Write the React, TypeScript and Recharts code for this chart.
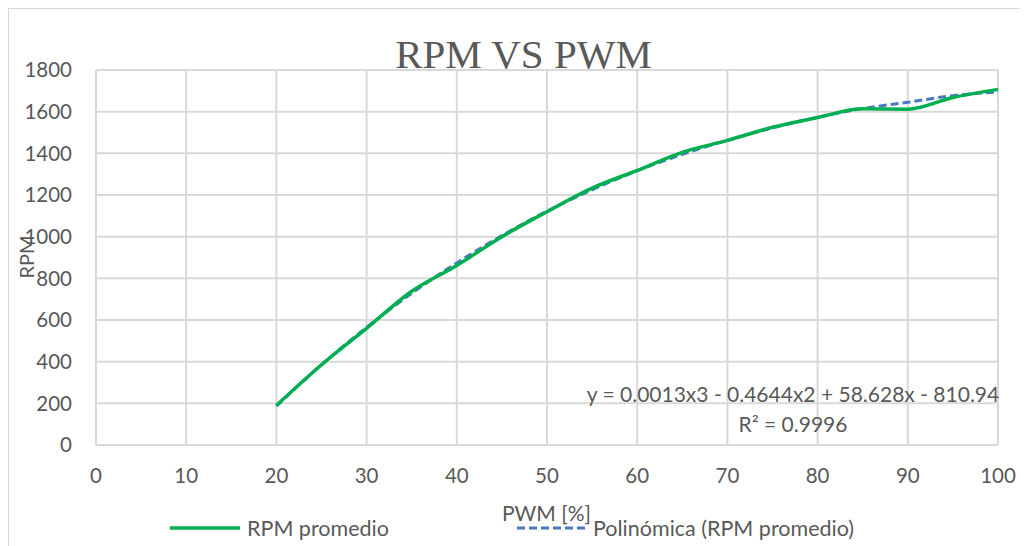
import React from "react";
import { LineChart, Line, XAxis, YAxis, CartesianGrid } from "recharts";

const pwm = [20, 25, 30, 35, 40, 45, 50, 55, 60, 65, 70, 75, 80, 85, 90, 95, 100];
const rpmPromedio = [190, 385, 560, 738, 862, 1000, 1120, 1233, 1318, 1405, 1462, 1525, 1572, 1614, 1612, 1668, 1707];
const polinomica = [187, 385, 565, 728, 874, 1005, 1122, 1225, 1316, 1395, 1463, 1522, 1573, 1615, 1645, 1677, 1695];
const xTicks = [0, 10, 20, 30, 40, 50, 60, 70, 80, 90, 100];
const yTicks = [0, 200, 400, 600, 800, 1000, 1200, 1400, 1600, 1800];

const title = "RPM VS PWM";
const xLabel = "PWM [%]";
const yLabel = "RPM";
const seriesName = "RPM promedio";
const trendName = "Polinómica (RPM promedio)";
const equation = "y = 0.0013x3 - 0.4644x2 + 58.628x - 810.94";
const rSquared = "R² = 0.9996";

const data = pwm.map((x, i) => ({ x, rpm: rpmPromedio[i], trend: polinomica[i] }));

const FONT = "Lato, 'Open Sans', sans-serif";
const TXT = "#595959";
const GRID = "#d9d9d9";
const GREEN = "#00B050";
const BLUE = "#4A78C4";

export default function App() {
  return (
    <div style={{ position: "relative", width: 1019, height: 538, overflow: "hidden" }}>
      <div
        style={{
          position: "absolute",
          left: 0,
          top: 0,
          width: 1100,
          height: 600,
          borderLeft: `1px solid ${GRID}`,
          borderTop: `1px solid ${GRID}`,
        }}
      />
      <div style={{ position: "absolute", left: 0, top: 0 }}>
        <LineChart
          width={1019}
          height={538}
          data={data}
          margin={{ top: 62, right: 29, bottom: 71, left: 8 }}
        >
          <CartesianGrid stroke={GRID} strokeWidth={2} />
          <XAxis
            type="number"
            dataKey="x"
            domain={[0, 100]}
            ticks={xTicks}
            height={30}
            tickSize={0}
            tickMargin={23}
            axisLine={{ stroke: GRID, strokeWidth: 2 }}
            tick={{ fill: TXT, fontSize: 20.5, fontFamily: FONT }}
            interval={0}
          />
          <YAxis
            type="number"
            domain={[0, 1800]}
            ticks={yTicks}
            width={80}
            tickSize={0}
            tickMargin={24}
            axisLine={false}
            tick={{ fill: TXT, fontSize: 20.5, fontFamily: FONT }}
            interval={0}
          />
          <Line
            dataKey="trend"
            name={trendName}
            type="monotone"
            stroke={BLUE}
            strokeWidth={3}
            strokeDasharray="8 4"
            dot={false}
            activeDot={false}
            isAnimationActive={false}
          />
          <Line
            dataKey="rpm"
            name={seriesName}
            type="monotone"
            stroke={GREEN}
            strokeWidth={3.5}
            dot={false}
            activeDot={false}
            isAnimationActive={false}
          />
        </LineChart>
      </div>
      <svg
        width={1019}
        height={538}
        style={{ position: "absolute", left: 0, top: 0, pointerEvents: "none" }}
      >
        <text
          x={515.5}
          y={60}
          textAnchor="middle"
          fontFamily="'Liberation Serif', 'DejaVu Serif', serif"
          fontSize={41}
          fill={TXT}
        >
          {title}
        </text>
        <text
          x={0}
          y={0}
          transform="translate(26 249) rotate(-90)"
          textAnchor="middle"
          fontFamily={FONT}
          fontSize={20}
          fill={TXT}
        >
          {yLabel}
        </text>
        <text x={785} y={394} textAnchor="middle" fontFamily={FONT} fontSize={21} fill={TXT}>
          {equation}
        </text>
        <text x={785} y={424} textAnchor="middle" fontFamily={FONT} fontSize={21} fill={TXT}>
          {rSquared}
        </text>
        <text x={494} y={513} fontFamily={FONT} fontSize={21} fill={TXT}>
          {xLabel}
        </text>
        <line x1={162} x2={232} y1={520} y2={520} stroke={GREEN} strokeWidth={3.5} />
        <text x={239} y={528} fontFamily={FONT} fontSize={21.5} fill={TXT}>
          {seriesName}
        </text>
        <line x1={509} x2={579} y1={520} y2={520} stroke={BLUE} strokeWidth={3} strokeDasharray="8 4" />
        <text x={585} y={528} fontFamily={FONT} fontSize={21.5} fill={TXT}>
          {trendName}
        </text>
      </svg>
    </div>
  );
}
